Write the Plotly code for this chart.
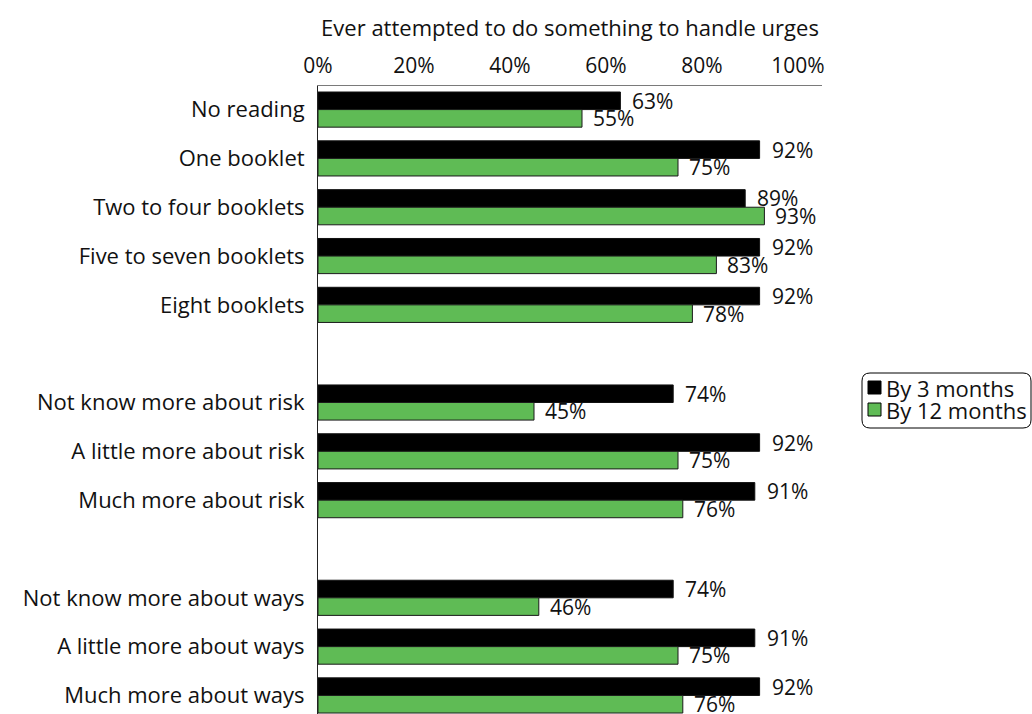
import plotly.graph_objects as go

# Survey responses: share who ever attempted to do something to handle urges
categories = [
    "No reading", "One booklet", "Two to four booklets", "Five to seven booklets",
    "Eight booklets",
    "Not know more about risk", "A little more about risk", "Much more about risk",
    "Not know more about ways", "A little more about ways", "Much more about ways",
]
# row slots (blank slots separate the three groups)
slots = [0, 1, 2, 3, 4, 6, 7, 8, 10, 11, 12]
by_3_months = [63, 92, 89, 92, 92, 74, 92, 91, 74, 91, 92]
by_12_months = [55, 75, 93, 83, 78, 45, 75, 76, 46, 75, 76]
series_names = ["By 3 months", "By 12 months"]
x_ticks = [0, 20, 40, 60, 80, 100]

FONT = "Open Sans"
TXT = 22   # words
NUM = 21   # numbers
BLACK = "#000000"
GREEN = "#5fbb55"
BAR_W = 0.36

W, H = 1032, 714
L, R, T, B = 318, 210, 86, 0
PW, PH = W - L - R, H - T - B


def px(x):
    return (x - L) / PW


def py(y):
    return (H - B - y) / PH


fig = go.Figure()
fig.add_trace(go.Bar(
    name=series_names[0], y=slots, x=by_3_months, orientation="h",
    width=BAR_W, offset=-BAR_W, marker=dict(color=BLACK, line=dict(color="#111", width=1)),
    showlegend=False,
))
fig.add_trace(go.Bar(
    name=series_names[1], y=slots, x=by_12_months, orientation="h",
    width=BAR_W, offset=0, marker=dict(color=GREEN, line=dict(color="#1a1a1a", width=1)),
    showlegend=False,
))

# value labels to the right of each bar
for s, a, b in zip(slots, by_3_months, by_12_months):
    fig.add_annotation(x=a, y=s - BAR_W / 2, text=f"{a}%", showarrow=False,
                       xanchor="left", xshift=10, font=dict(size=NUM, color="#111", family=FONT))
    fig.add_annotation(x=b, y=s + BAR_W / 2, text=f"{b}%", showarrow=False,
                       xanchor="left", xshift=9, font=dict(size=NUM, color="#111", family=FONT))

# legend box with rounded corners
x0, x1, y0, y1 = 862, 1031, 373, 428
r = 8
rx, ry = r / PW, r / PH
X0, X1, Y0, Y1 = px(x0), px(x1), py(y0), py(y1)
path = (f"M{X0 + rx},{Y0} L{X1 - rx},{Y0} Q{X1},{Y0} {X1},{Y0 - ry} "
        f"L{X1},{Y1 + ry} Q{X1},{Y1} {X1 - rx},{Y1} L{X0 + rx},{Y1} "
        f"Q{X0},{Y1} {X0},{Y1 + ry} L{X0},{Y0 - ry} Q{X0},{Y0} {X0 + rx},{Y0} Z")
fig.add_shape(type="path", path=path, xref="paper", yref="paper",
              line=dict(color="#000", width=1), fillcolor="rgba(0,0,0,0)")
for i, (name, col) in enumerate(zip(series_names, [BLACK, GREEN])):
    top = 381 + i * 22
    fig.add_shape(type="rect", xref="paper", yref="paper",
                  x0=px(868), x1=px(881), y0=py(top), y1=py(top + 13),
                  fillcolor=col, line=dict(color="#000", width=1))
    fig.add_annotation(x=px(884), y=py(top + 6.5), xref="paper", yref="paper",
                       text=name, showarrow=False, xanchor="left", yanchor="middle",
                       font=dict(size=TXT, color="#111", family=FONT))

fig.update_layout(
    width=W, height=H,
    margin=dict(l=L, r=R, t=T, b=B),
    paper_bgcolor="white", plot_bgcolor="white",
    barmode="overlay",
    font=dict(family=FONT, size=TXT, color="#111"),
    xaxis=dict(
        side="top", range=[0, 105], tickvals=x_ticks,
        ticktext=[f"{v}%" for v in x_ticks],
        showgrid=False, zeroline=False, showline=True, linecolor="#7a7a7a", linewidth=1,
        ticks="", ticklabelstandoff=4,
        title=dict(text="Ever attempted to do something to handle urges",
                   standoff=7, font=dict(size=TXT)),
        tickfont=dict(size=NUM),
    ),
    yaxis=dict(
        range=[12.38, -0.483], tickvals=slots, ticktext=categories,
        showgrid=False, zeroline=False, showline=True, linecolor="#222", linewidth=1,
        ticks="", ticklabelstandoff=8, tickfont=dict(size=TXT),
    ),
)

fig.write_html("out.html")
